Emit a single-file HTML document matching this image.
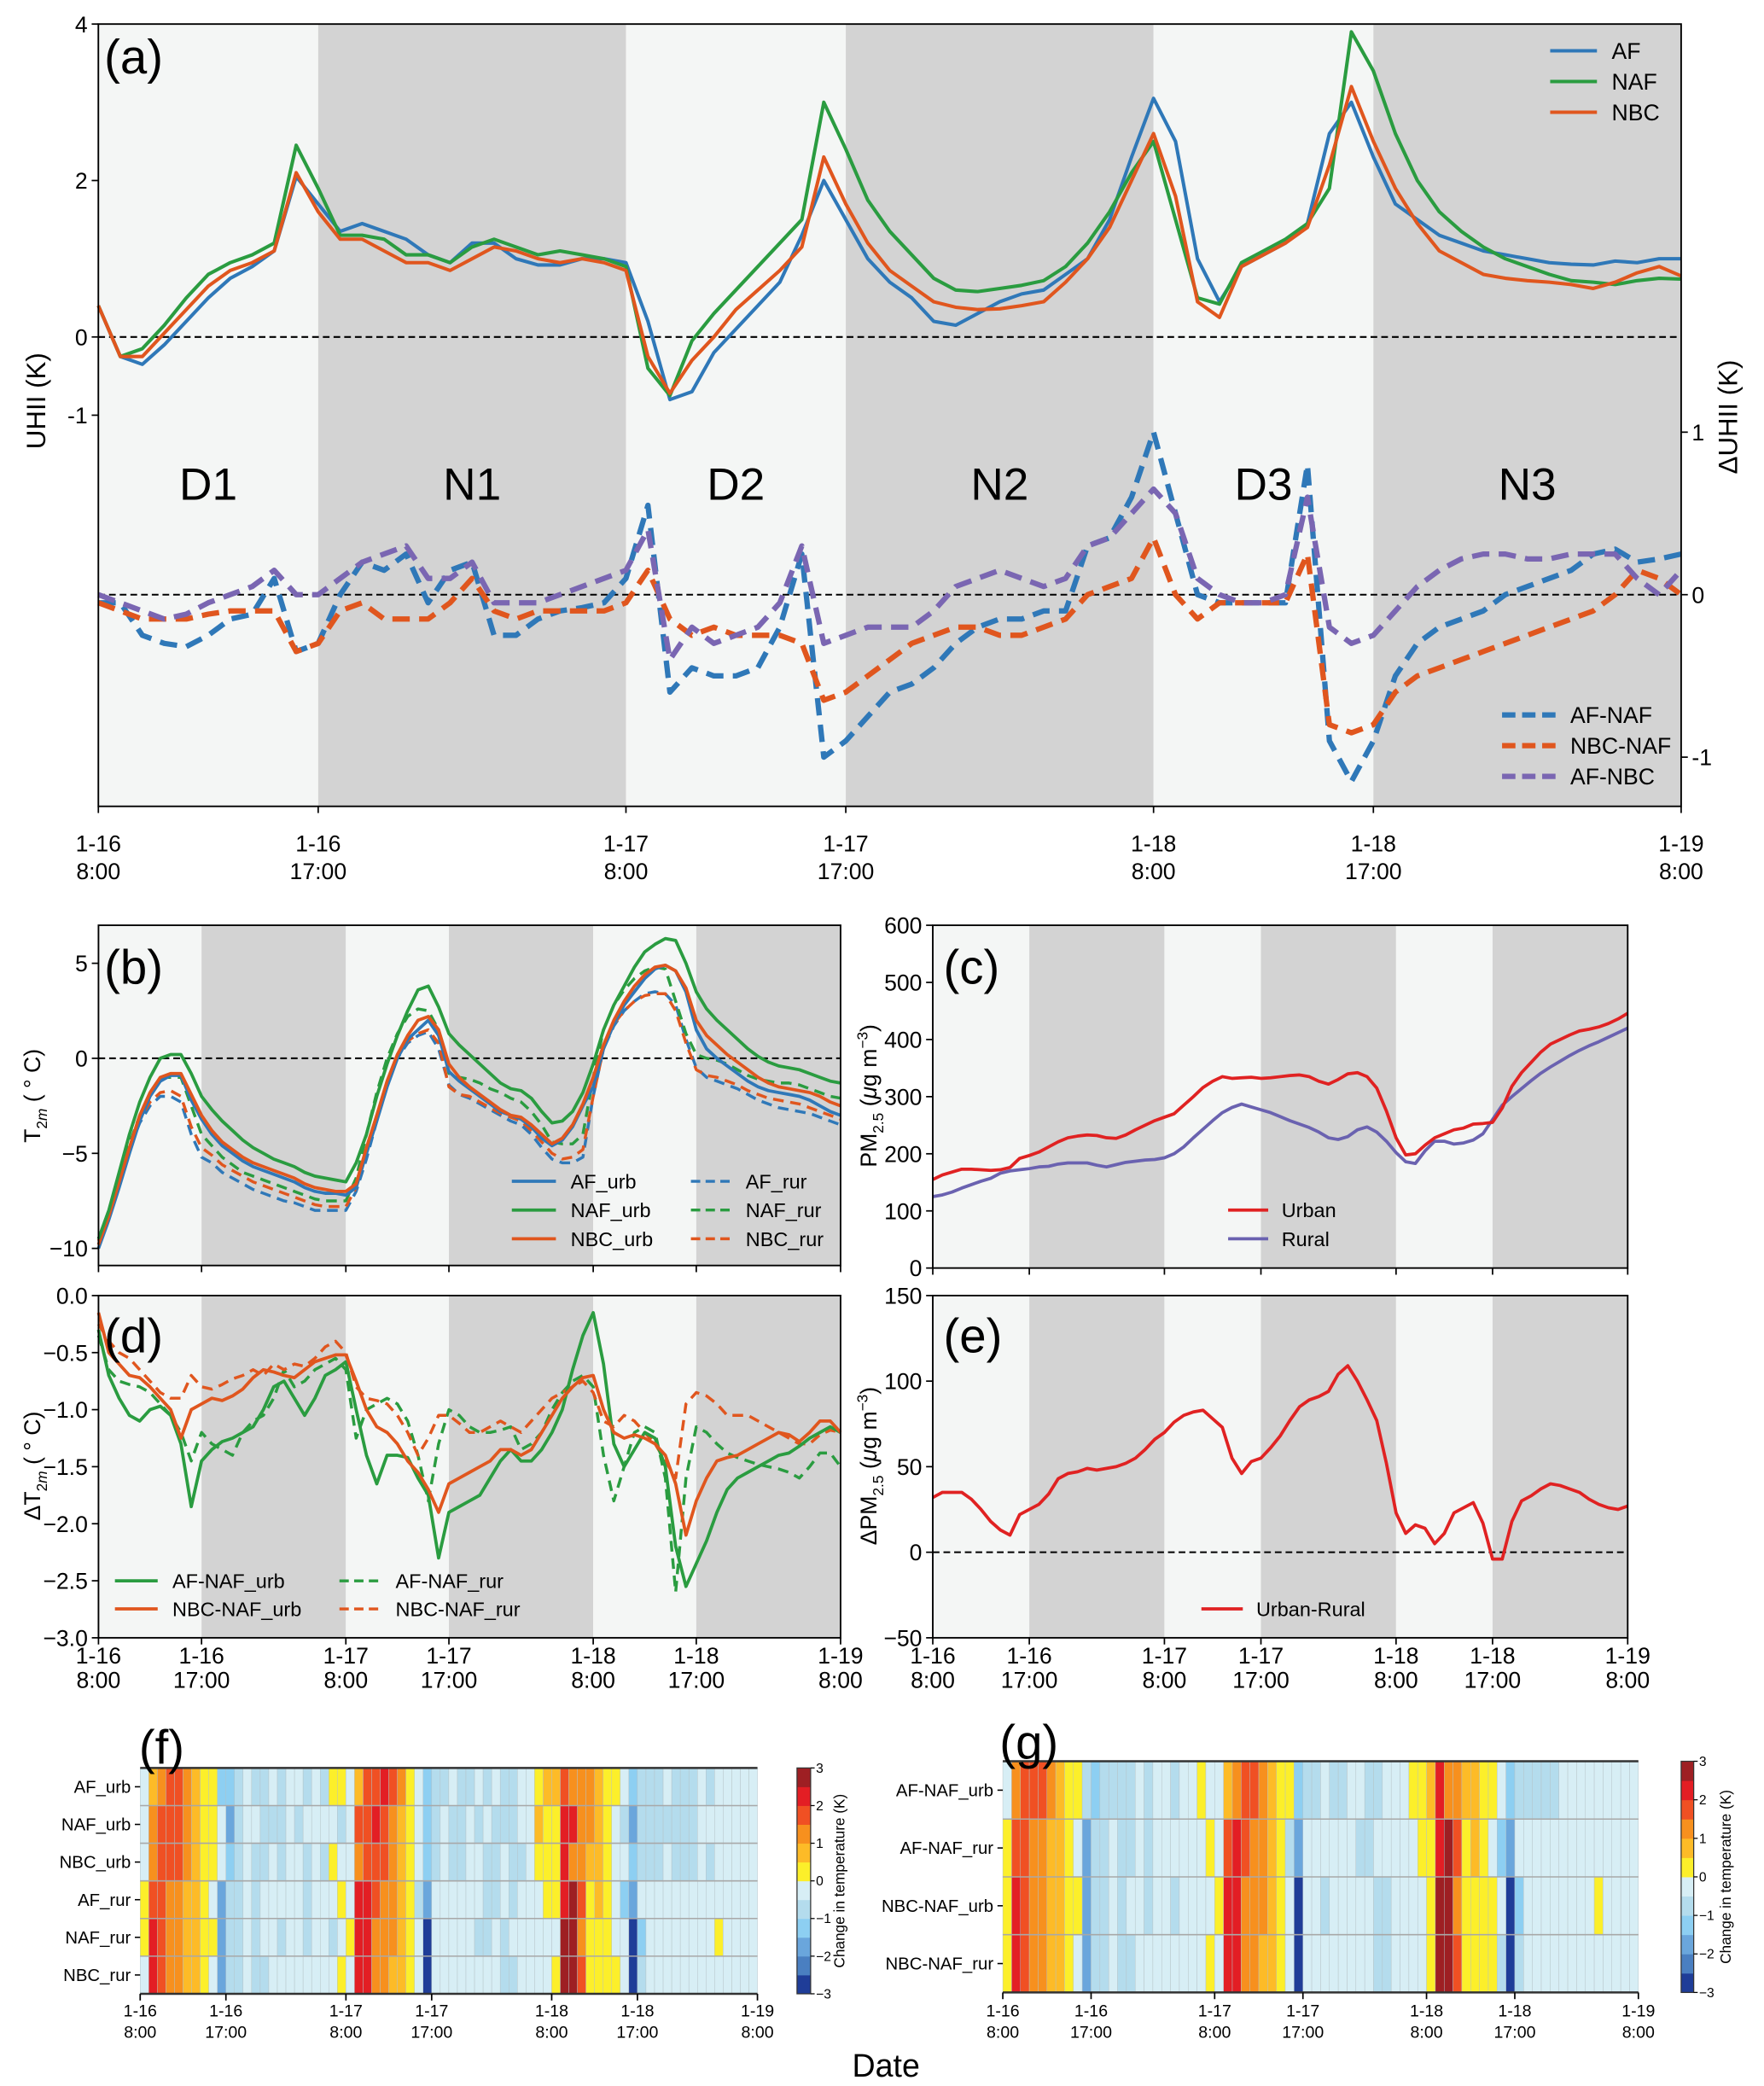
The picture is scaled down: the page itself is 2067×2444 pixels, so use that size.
<!DOCTYPE html>
<html><head><meta charset="utf-8"><style>
html,body{margin:0;padding:0;background:#fff;}
svg{display:block;font-family:"Liberation Sans",Arial,sans-serif;}
</style></head><body>
<svg id="fig" width="2067" height="2444" viewBox="0 0 1320 1561" preserveAspectRatio="none" xmlns="http://www.w3.org/2000/svg">
<rect x="0" y="0" width="1320" height="1561" fill="#fff"/>
</svg>
<script>
// ---------- shared time axis ----------
const xTickHours=[0,10,24,34,48,58,72];
const xTickTop=['1-16','1-16','1-17','1-17','1-18','1-18','1-19'];
const xTickBot=['8:00','17:00','8:00','17:00','8:00','17:00','8:00'];
const periodStart=[0,10,24,34,48,58];
const periodEnd=[10,24,34,48,58,72];
const periodDark=[0,1,0,1,0,1];
const periodNames=['D1','N1','D2','N2','D3','N3'];

// ---------- panel (a) ----------
const uhiiAF=[0.4,-0.25,-0.35,-0.1,0.2,0.5,0.75,0.9,1.1,2.05,1.7,1.35,1.45,1.35,1.25,1.05,0.95,1.2,1.2,1.0,0.92,0.92,1.0,1.0,0.95,0.2,-0.8,-0.7,-0.2,0.1,0.4,0.7,1.3,2.0,1.5,1.0,0.7,0.5,0.2,0.15,0.3,0.45,0.55,0.6,0.8,1.0,1.5,2.3,3.05,2.5,1.0,0.45,0.9,1.05,1.2,1.45,2.6,3.0,2.3,1.7,1.5,1.3,1.2,1.1,1.05,1.0,0.95,0.93,0.92,0.97,0.95,1.0,1.0];
const uhiiNAF=[0.4,-0.25,-0.15,0.15,0.5,0.8,0.95,1.05,1.2,2.45,1.9,1.3,1.3,1.25,1.05,1.05,0.95,1.15,1.25,1.15,1.05,1.1,1.05,1.0,0.9,-0.4,-0.75,-0.05,0.3,0.6,0.9,1.2,1.5,3.0,2.4,1.75,1.35,1.05,0.75,0.6,0.58,0.62,0.66,0.72,0.9,1.2,1.6,2.1,2.5,1.5,0.5,0.42,0.95,1.1,1.25,1.45,1.9,3.9,3.4,2.6,2.0,1.6,1.35,1.15,1.0,0.9,0.8,0.72,0.7,0.67,0.72,0.75,0.74];
const uhiiNBC=[0.4,-0.25,-0.25,0.05,0.35,0.65,0.85,0.95,1.1,2.1,1.6,1.25,1.25,1.1,0.95,0.95,0.85,1.0,1.15,1.1,1.0,0.95,1.0,0.95,0.85,-0.25,-0.72,-0.3,0.0,0.35,0.6,0.85,1.15,2.3,1.7,1.2,0.85,0.65,0.45,0.38,0.35,0.36,0.4,0.45,0.7,1.0,1.4,2.0,2.6,1.8,0.45,0.25,0.9,1.05,1.2,1.4,2.2,3.2,2.5,1.9,1.45,1.1,0.95,0.8,0.75,0.72,0.7,0.67,0.62,0.7,0.82,0.9,0.78];
const dAFNAF=[-0.05,-0.05,-0.25,-0.3,-0.32,-0.25,-0.15,-0.12,0.1,-0.35,-0.3,0.0,0.2,0.15,0.25,-0.05,0.15,0.2,-0.25,-0.25,-0.15,-0.1,-0.08,-0.05,0.1,0.55,-0.6,-0.45,-0.5,-0.5,-0.45,-0.2,0.25,-1.0,-0.9,-0.75,-0.6,-0.55,-0.45,-0.3,-0.2,-0.15,-0.15,-0.1,-0.1,0.3,0.35,0.6,1.0,0.5,0.0,-0.05,-0.05,-0.05,-0.05,0.8,-0.9,-1.15,-0.9,-0.5,-0.3,-0.2,-0.15,-0.1,0.0,0.05,0.1,0.15,0.25,0.28,0.2,0.22,0.25];
const dNBCNAF=[-0.05,-0.1,-0.15,-0.15,-0.15,-0.12,-0.1,-0.1,-0.1,-0.35,-0.3,-0.1,-0.05,-0.15,-0.15,-0.15,-0.05,0.1,-0.1,-0.15,-0.1,-0.1,-0.1,-0.1,-0.05,0.15,-0.15,-0.25,-0.2,-0.25,-0.25,-0.25,-0.3,-0.65,-0.6,-0.5,-0.4,-0.3,-0.25,-0.2,-0.2,-0.25,-0.25,-0.2,-0.15,0.0,0.05,0.1,0.35,0.0,-0.15,-0.05,-0.05,-0.05,-0.05,0.25,-0.8,-0.85,-0.8,-0.6,-0.5,-0.45,-0.4,-0.35,-0.3,-0.25,-0.2,-0.15,-0.1,0.0,0.15,0.1,0.0];
const dAFNBC=[0.0,-0.05,-0.1,-0.15,-0.12,-0.05,0.0,0.05,0.15,0.0,0.0,0.1,0.2,0.25,0.3,0.1,0.1,0.2,-0.05,-0.05,-0.05,0.0,0.05,0.1,0.15,0.4,-0.4,-0.2,-0.3,-0.25,-0.2,-0.05,0.3,-0.3,-0.25,-0.2,-0.2,-0.2,-0.1,0.05,0.1,0.15,0.1,0.05,0.1,0.3,0.35,0.5,0.65,0.5,0.1,0.0,-0.05,-0.05,0.0,0.6,-0.2,-0.3,-0.25,-0.1,0.05,0.15,0.22,0.25,0.25,0.22,0.22,0.25,0.25,0.25,0.1,0.0,0.15];
const aLeftTicks=[4,2,0,-1];
const aRightTicks=[1,0,-1];

// ---------- panel (b) ----------
const tAFurb=[-10.0,-8.5,-6.8,-5.0,-3.3,-2.0,-1.2,-0.9,-0.9,-2.2,-3.2,-4.0,-4.6,-5.0,-5.4,-5.7,-5.9,-6.1,-6.3,-6.5,-6.8,-7.0,-7.1,-7.1,-7.2,-6.8,-5.0,-3.3,-1.5,0.0,1.0,1.5,2.0,1.2,-0.7,-1.2,-1.6,-2.0,-2.4,-2.8,-3.0,-3.2,-3.6,-4.2,-4.6,-4.3,-3.6,-2.5,-1.5,0.5,1.8,2.8,3.5,4.2,4.7,4.9,4.6,3.5,1.5,0.5,0.0,-0.4,-0.8,-1.2,-1.5,-1.7,-1.8,-1.9,-2.0,-2.2,-2.5,-2.8,-3.0];
const tNAFurb=[-9.5,-8.0,-6.0,-4.0,-2.3,-1.0,0.0,0.2,0.2,-0.8,-2.0,-2.7,-3.3,-3.8,-4.3,-4.7,-5.0,-5.3,-5.5,-5.7,-6.0,-6.2,-6.3,-6.4,-6.5,-5.5,-4.0,-2.0,-0.3,1.2,2.5,3.6,3.8,2.7,1.3,0.7,0.2,-0.3,-0.8,-1.3,-1.6,-1.7,-2.1,-2.8,-3.4,-3.3,-2.8,-1.8,-0.3,1.5,2.8,3.8,4.8,5.6,6.0,6.3,6.2,5.0,3.5,2.6,2.0,1.5,1.0,0.5,0.1,-0.2,-0.4,-0.5,-0.6,-0.8,-1.0,-1.2,-1.3];
const tNBCurb=[-9.8,-8.3,-6.5,-4.7,-3.0,-1.8,-1.0,-0.8,-0.8,-1.9,-3.0,-3.8,-4.4,-4.8,-5.2,-5.5,-5.7,-5.9,-6.1,-6.3,-6.6,-6.8,-6.9,-7.0,-7.0,-6.6,-4.7,-3.0,-1.2,0.2,1.2,2.0,2.2,1.5,-0.3,-1.0,-1.5,-1.9,-2.3,-2.7,-3.0,-3.1,-3.5,-4.0,-4.5,-4.2,-3.5,-2.4,-1.0,0.7,2.0,3.0,3.8,4.4,4.8,4.9,4.6,3.7,2.0,1.2,0.7,0.2,-0.2,-0.6,-1.0,-1.3,-1.5,-1.6,-1.7,-1.8,-2.0,-2.3,-2.5];
const tAFrur=[-9.8,-8.3,-6.5,-4.8,-3.4,-2.5,-2.0,-2.0,-2.3,-4.0,-5.2,-5.5,-6.0,-6.3,-6.6,-6.9,-7.1,-7.3,-7.5,-7.6,-7.8,-8.0,-8.0,-8.0,-8.0,-7.0,-5.3,-3.3,-1.5,0.0,0.8,1.2,1.4,0.5,-1.4,-1.9,-2.1,-2.4,-2.7,-3.0,-3.3,-3.5,-4.0,-4.7,-5.3,-5.5,-5.5,-5.2,-2.0,0.5,1.7,2.5,3.0,3.4,3.5,3.4,2.8,1.0,-0.5,-1.0,-1.2,-1.4,-1.6,-1.9,-2.2,-2.4,-2.6,-2.7,-2.8,-2.9,-3.1,-3.3,-3.5];
const tNAFrur=[-9.5,-8.0,-6.2,-4.5,-3.0,-1.8,-1.0,-1.0,-1.0,-2.5,-4.0,-4.6,-5.2,-5.6,-6.0,-6.2,-6.4,-6.6,-6.8,-7.0,-7.2,-7.4,-7.5,-7.5,-7.5,-6.3,-4.0,-1.8,0.0,1.3,2.2,2.6,2.5,1.5,-0.8,-1.0,-1.1,-1.3,-1.6,-1.8,-2.1,-2.3,-2.8,-3.5,-4.4,-4.5,-4.5,-4.0,-1.0,1.5,2.8,3.6,4.2,4.6,4.8,4.7,3.0,1.3,0.2,0.0,-0.1,-0.3,-0.6,-0.9,-1.1,-1.2,-1.3,-1.3,-1.4,-1.6,-1.8,-2.0,-2.1];
const tNBCrur=[-9.6,-8.2,-6.4,-4.7,-3.2,-2.3,-1.8,-1.7,-2.0,-3.6,-4.7,-5.1,-5.6,-5.9,-6.2,-6.5,-6.7,-6.9,-7.1,-7.3,-7.5,-7.7,-7.8,-7.8,-7.8,-6.8,-5.0,-3.0,-1.3,0.2,0.9,1.3,1.5,0.8,-1.5,-1.9,-2.0,-2.3,-2.6,-2.9,-3.1,-3.3,-3.8,-4.4,-5.0,-5.3,-5.2,-4.8,-2.0,0.5,1.8,2.5,3.0,3.3,3.4,3.4,2.5,0.8,-0.6,-0.9,-1.0,-1.2,-1.4,-1.7,-1.9,-2.1,-2.2,-2.3,-2.4,-2.6,-2.8,-3.0,-3.2];
const bTicks=[5,0,-5,-10];

// ---------- panel (d) ----------
const dtAFNAFurb=[-0.3,-0.7,-0.9,-1.05,-1.1,-1.0,-0.97,-1.05,-1.3,-1.85,-1.45,-1.35,-1.28,-1.25,-1.2,-1.15,-1.0,-0.8,-0.75,-0.9,-1.05,-0.9,-0.7,-0.65,-0.58,-1.0,-1.4,-1.65,-1.4,-1.4,-1.42,-1.6,-1.75,-2.3,-1.9,-1.85,-1.8,-1.75,-1.6,-1.45,-1.35,-1.45,-1.45,-1.35,-1.2,-1.0,-0.65,-0.35,-0.15,-0.6,-1.3,-1.5,-1.35,-1.2,-1.25,-1.5,-2.2,-2.55,-2.35,-2.15,-1.9,-1.7,-1.6,-1.55,-1.5,-1.45,-1.4,-1.38,-1.32,-1.25,-1.2,-1.15,-1.2];
const dtAFNAFrur=[-0.35,-0.65,-0.75,-0.78,-0.8,-0.85,-0.95,-1.05,-1.2,-1.45,-1.2,-1.3,-1.35,-1.4,-1.2,-1.1,-1.05,-0.9,-0.65,-0.8,-0.75,-0.65,-0.6,-0.55,-0.65,-1.25,-1.0,-0.95,-0.9,-0.95,-1.1,-1.4,-1.8,-1.3,-1.0,-1.05,-1.15,-1.2,-1.2,-1.18,-1.15,-1.35,-1.3,-1.2,-1.0,-0.85,-0.75,-0.7,-0.8,-1.4,-1.8,-1.5,-1.2,-1.15,-1.2,-1.6,-2.6,-1.6,-1.15,-1.2,-1.3,-1.38,-1.42,-1.45,-1.48,-1.5,-1.52,-1.55,-1.6,-1.5,-1.38,-1.38,-1.5];
const dtNBCNAFurb=[-0.15,-0.5,-0.6,-0.7,-0.72,-0.8,-0.9,-1.0,-1.25,-1.0,-0.95,-0.9,-0.92,-0.88,-0.82,-0.72,-0.65,-0.67,-0.7,-0.72,-0.65,-0.58,-0.55,-0.52,-0.52,-0.75,-1.0,-1.15,-1.2,-1.3,-1.45,-1.55,-1.7,-1.9,-1.65,-1.6,-1.55,-1.5,-1.45,-1.35,-1.35,-1.4,-1.35,-1.2,-1.05,-0.9,-0.8,-0.72,-0.7,-1.0,-1.2,-1.25,-1.22,-1.25,-1.3,-1.4,-1.65,-2.1,-1.8,-1.6,-1.45,-1.42,-1.4,-1.35,-1.3,-1.25,-1.2,-1.22,-1.28,-1.2,-1.1,-1.1,-1.2];
const dtNBCNAFrur=[-0.25,-0.4,-0.5,-0.55,-0.65,-0.75,-0.85,-0.9,-0.9,-0.7,-0.8,-0.82,-0.78,-0.73,-0.7,-0.65,-0.7,-0.6,-0.65,-0.6,-0.62,-0.55,-0.45,-0.4,-0.5,-0.8,-0.9,-0.92,-0.95,-1.05,-1.2,-1.4,-1.25,-1.05,-1.05,-1.12,-1.2,-1.2,-1.15,-1.1,-1.15,-1.2,-1.1,-1.0,-0.9,-0.85,-0.8,-0.75,-0.85,-1.1,-1.15,-1.05,-1.1,-1.2,-1.3,-1.45,-1.6,-0.95,-0.85,-0.88,-0.95,-1.05,-1.05,-1.05,-1.1,-1.15,-1.2,-1.25,-1.3,-1.3,-1.22,-1.18,-1.2];
const dTicks=[0.0,-0.5,-1.0,-1.5,-2.0,-2.5,-3.0];

// ---------- panel (c) / (e) ----------
const pmUrban=[155,163,168,173,173,172,171,172,176,192,197,203,212,221,228,231,233,232,228,227,233,242,250,258,264,270,285,300,316,327,335,332,333,334,332,333,335,337,338,335,327,322,330,340,342,335,315,275,228,198,200,215,228,235,242,245,252,253,255,280,318,342,360,378,392,400,408,415,418,422,428,436,446];
const pmRural=[125,128,133,140,146,152,157,166,170,172,174,177,178,182,184,184,184,180,177,181,185,187,189,190,193,200,212,228,243,258,272,281,287,282,277,272,265,258,252,246,238,228,225,230,242,247,238,222,202,186,183,205,222,222,217,219,224,235,260,285,300,314,328,341,352,362,372,381,389,396,404,412,420];
const pmDiff=[32,35,35,35,31,25,18,13,10,22,25,28,34,43,46,47,49,48,49,50,52,55,60,66,70,76,80,82,83,78,73,55,46,53,55,61,68,77,85,89,91,94,104,109,100,89,77,52,23,11,16,14,5,11,23,26,29,17,-4,-4,18,30,33,37,40,39,37,35,31,28,26,25,27];
const cTicks=[0,100,200,300,400,500,600];
const eTicks=[-50,0,50,100,150];

// ---------- heatmaps (f) (g) : one code per hour ----------
const levelCodes=['N','n','B','b','-','.','Y','a','O','o','r','R'];
const levelValues=[-2.75,-2.25,-1.75,-1.25,-0.75,-0.25,0.25,0.75,1.25,1.75,2.25,2.75];
const fLabels=['AF_urb','NAF_urb','NBC_urb','AF_rur','NAF_rur','NBC_rur'];
const fCodes=[
'.aOooOaYYbb-.--.-..-.-YY.aooroOY.b--.--.-.--..YaaoOOOaYY.b---.---.-.....',
'.OoooOaYY.B-..---.-....-.ooroOaY.b-.--.-.---..aYYrrOOaY.-B-------.......',
'.OoooOaYY.b-.--.-..-.-Y..OoooOaY.b-.--..--.--.YYYrOOaaY..b---.---.-.....',
'YooOOaaY.B--.-.....-...Y.rroOOaY-B......--.-...YYrRoYaY.bB..............',
'YroOOaaYYB--.-..-..-..-.YrrOOOaY.N.....--.-......RROYYY..Nb........Y....',
'.roOOaaY.B--.--........Y.rrOOaaY.N........--....YRRoYYYY.N-.............'];
const gLabels=['AF-NAF_urb','AF-NAF_rur','NBC-NAF_urb','NBC-NAF_rur'];
const gCodes=[
'.OoooOaYY-b----.-..-..Y..aOooOaYYb--.--..--...YYarOOaaYY.b-----.........',
'YooOOaaY.B--.--.-......Y.oroOOaY-B......--.....YYrRoYaY.bB..............',
'YroOOaaYYB--.-..-..-....YrrOOOaY.N..-.....--....YRROYYYY.Nb........Y....',
'YroOOaaY.B--.--........Y.rrOOaaY.N........--....YRRoYYYY-N-.............'];
const cbarTicks=[3,2,1,0,-1,-2,-3];

// ---------- drawing helpers ----------
const NS='http://www.w3.org/2000/svg';
const svg=document.getElementById('fig');
function mk(tag,attrs,parent){const e=document.createElementNS(NS,tag);for(const k in attrs)e.setAttribute(k,attrs[k]);(parent||svg).appendChild(e);return e;}
function txt(str,x,y,size,anchor,parent){const t=mk('text',{x:x,y:y,'font-size':size,'text-anchor':anchor||'middle',fill:'#000'},parent);t.textContent=str;return t;}
function decode(s){const a=[];for(let i=0;i<72;i++){const c=s[i]||'.';const k=levelCodes.indexOf(c);a.push(levelValues[k<0?5:k]);}return a;}
const levelColors=['#1f3d98','#4a7fc1','#6aa6dc','#8dcff2','#b4dced','#d7eef5','#fcef2a','#fdbb27','#f7901e','#f05023','#e31e24','#9e1f23'];
function levelColor(v){let i=Math.floor((v+3)/0.5);if(i<0)i=0;if(i>11)i=11;return levelColors[i];}

function panel(name,x0,x1,y0,y1,ymin,ymax,withBands){
  const g=mk('g',{});
  
  
  const X=h=>x0+h*(x1-x0)/72;
  const Y=v=>y1-(v-ymin)*(y1-y0)/(ymax-ymin);
  if(withBands){
    for(let i=0;i<periodStart.length;i++){
      const r=mk('rect',{x:X(periodStart[i]),y:y0,width:X(periodEnd[i])-X(periodStart[i]),height:y1-y0,fill:periodDark[i]?'#d3d3d3':'#f4f6f5'},g);
      
      
    }
  }
  return {g,X,Y,x0,x1,y0,y1};
}
function series(p,vals,color,w,dash,name,Yf){
  const Yc=Yf||p.Y;
  const d=vals.map((v,i)=>(i?'L':'M')+p.X(i).toFixed(2)+' '+Yc(v).toFixed(2)).join('');
  const path=mk('path',{d:d,fill:'none',stroke:color,'stroke-width':w,'stroke-dasharray':dash||'none','stroke-linejoin':'round'},p.g);
  
  
}
function hline(p,y,name){
  const l=mk('line',{x1:p.x0,x2:p.x1,y1:y,y2:y,stroke:'#000','stroke-width':1.3,'stroke-dasharray':'5,3'},p.g);
  
  
}
function frame(p){
  const r=mk('rect',{x:p.x0,y:p.y0,width:p.x1-p.x0,height:p.y1-p.y0,fill:'none',stroke:'#000','stroke-width':1.2},p.g);
  
  
}
function xAxis(p,labels,size,b1,b2){
  const g=mk('g',{},p.g);
  
  
  xTickHours.forEach((h,i)=>{
    mk('line',{x1:p.X(h),x2:p.X(h),y1:p.y1,y2:p.y1+5,stroke:'#000','stroke-width':1.1},g);
    if(labels){
      const t1=txt(xTickTop[i],p.X(h),b1,size,'middle',g);
      
      const t2=txt(xTickBot[i],p.X(h),b2,size,'middle',g);
      
    }
  });
}
function yAxis(p,ticks,fmt,size,Yf,right){
  const g=mk('g',{},p.g);
  
  
  const Yc=Yf||p.Y;
  ticks.forEach(v=>{
    const y=Yc(v);
    if(right){
      mk('line',{x1:p.x1,x2:p.x1+5,y1:y,y2:y,stroke:'#000','stroke-width':1.1},g);
      const t=txt(fmt(v),p.x1+8,y+size*0.36,size,'start',g);
      
    }else{
      mk('line',{x1:p.x0-5,x2:p.x0,y1:y,y2:y,stroke:'#000','stroke-width':1.1},g);
      const t=txt(fmt(v),p.x0-8,y+size*0.36,size,'end',g);
      
    }
  });
}
function legendEntry(parent,x1,x2,y,color,w,dash,label,tx,size){
  const g=mk('g',{},parent);
  
  
  mk('line',{x1:x1,x2:x2,y1:y,y2:y,stroke:color,'stroke-width':w,'stroke-dasharray':dash||'none'},g);
  txt(label,tx,y+size*0.36,size,'start',g);
}
function ylabel(parts,x,y,size,name){
  const t=mk('text',{x:x,y:y,'font-size':size,'text-anchor':'middle',transform:'rotate(-90 '+x+' '+y+')'});
  
  
  parts.forEach(pt=>{const s=mk('tspan',pt.attrs||{},t);s.textContent=pt.t;});
  return t;
}
const cBlue='#2f78b8',cGreen='#2a9c40',cOrange='#e0561e',cPurple='#7a66b2',cRed='#e02222',cRural='#6a62b0';

// ---------- panel (a) ----------
const pa=panel('panel-a-uhii',73.6,1258,18,603.4,-6.0,4.0,true);
const YR=v=>445-v*121.6;
hline(pa,pa.Y(0),'zero-line-uhii');
hline(pa,YR(0),'zero-line-delta');
periodNames.forEach((n,i)=>{const t=txt(n,pa.X((periodStart[i]+periodEnd[i])/2),374,34,'middle',pa.g);});
series(pa,uhiiAF,cBlue,2.6,null,'line-af');
series(pa,uhiiNAF,cGreen,2.6,null,'line-naf');
series(pa,uhiiNBC,cOrange,2.6,null,'line-nbc');
series(pa,dAFNAF,cBlue,4,'13,7','line-af-naf',YR);
series(pa,dNBCNAF,cOrange,4,'13,7','line-nbc-naf',YR);
series(pa,dAFNBC,cPurple,4,'13,7','line-af-nbc',YR);
frame(pa);
xAxis(pa,true,17,637,658);
yAxis(pa,aLeftTicks,v=>String(v),17);
yAxis(pa,aRightTicks,v=>String(v),17,YR,true);
{const t=txt('(a)',78,55,36,'start',pa.g);}
legendEntry(pa.g,1160,1195,38,cBlue,2.6,null,'AF',1206,17);
legendEntry(pa.g,1160,1195,61,cGreen,2.6,null,'NAF',1206,17);
legendEntry(pa.g,1160,1195,84,cOrange,2.6,null,'NBC',1206,17);
legendEntry(pa.g,1124,1164,535,cBlue,4,'10,5','AF-NAF',1175,17);
legendEntry(pa.g,1124,1164,558,cOrange,4,'10,5','NBC-NAF',1175,17);
legendEntry(pa.g,1124,1164,581,cPurple,4,'10,5','AF-NBC',1175,17);
ylabel([{t:'UHII (K)'}],34,300,20,'y-axis-title-uhii');
ylabel([{t:'ΔUHII (K)'}],1300,312,20,'y-axis-title-delta-uhii');

// ---------- panel (b) ----------
const pb=panel('panel-b-t2m',73.7,629,692.4,947,-10.9,7.0,true);
hline(pb,pb.Y(0),'zero-line');
series(pb,tAFrur,cBlue,2.2,'8,5','line-af-rur');
series(pb,tNAFrur,cGreen,2.2,'8,5','line-naf-rur');
series(pb,tNBCrur,cOrange,2.2,'8,5','line-nbc-rur');
series(pb,tAFurb,cBlue,2.4,null,'line-af-urb');
series(pb,tNBCurb,cOrange,2.4,null,'line-nbc-urb');
series(pb,tNAFurb,cGreen,2.4,null,'line-naf-urb');
frame(pb);
xAxis(pb,false);
yAxis(pb,bTicks,v=>v<0?'−'+Math.abs(v):String(v),17);
{const t=txt('(b)',78,736,36,'start',pb.g);}
legendEntry(pb.g,383,416,884,cBlue,2.4,null,'AF_urb',427,15);
legendEntry(pb.g,383,416,905.5,cGreen,2.4,null,'NAF_urb',427,15);
legendEntry(pb.g,383,416,927,cOrange,2.4,null,'NBC_urb',427,15);
legendEntry(pb.g,517,547,884,cBlue,2.2,'7,4','AF_rur',558,15);
legendEntry(pb.g,517,547,905.5,cGreen,2.2,'7,4','NAF_rur',558,15);
legendEntry(pb.g,517,547,927,cOrange,2.2,'7,4','NBC_rur',558,15);
ylabel([{t:'T'},{t:'2',attrs:{'font-size':11,dy:5}},{t:'m',attrs:{'font-size':11,'font-style':'italic'}},{t:' ( ° C)',attrs:{dy:-5}}],30,820,17,'y-axis-title-t2m');

// ---------- panel (d) ----------
const pd=panel('panel-d-delta-t2m',73.7,629,969.5,1225.6,-3.0,0.0,true);
series(pd,dtAFNAFrur,cGreen,2.2,'8,5','line-af-naf-rur');
series(pd,dtNBCNAFrur,cOrange,2.2,'8,5','line-nbc-naf-rur');
series(pd,dtAFNAFurb,cGreen,2.4,null,'line-af-naf-urb');
series(pd,dtNBCNAFurb,cOrange,2.4,null,'line-nbc-naf-urb');
frame(pd);
xAxis(pd,true,17,1245,1263);
yAxis(pd,dTicks,v=>v<0?'−'+Math.abs(v).toFixed(1):v.toFixed(1),17);
{const t=txt('(d)',78,1012,36,'start',pd.g);}
legendEntry(pd.g,86,118,1183,cGreen,2.4,null,'AF-NAF_urb',129,15);
legendEntry(pd.g,86,118,1204,cOrange,2.4,null,'NBC-NAF_urb',129,15);
legendEntry(pd.g,254,285,1183,cGreen,2.2,'7,4','AF-NAF_rur',296,15);
legendEntry(pd.g,254,285,1204,cOrange,2.2,'7,4','NBC-NAF_rur',296,15);
ylabel([{t:'ΔT'},{t:'2',attrs:{'font-size':11,dy:5}},{t:'m',attrs:{'font-size':11,'font-style':'italic'}},{t:' ( ° C)',attrs:{dy:-5}}],30,1097,17,'y-axis-title-delta-t2m');

// ---------- panel (c) ----------
const pc=panel('panel-c-pm25',698,1218,692.4,948.9,0,600,true);
series(pc,pmRural,cRural,2.4,null,'line-rural');
series(pc,pmUrban,cRed,2.4,null,'line-urban');
frame(pc);
xAxis(pc,false);
yAxis(pc,cTicks,v=>String(v),17);
{const t=txt('(c)',706,736,36,'start',pc.g);}
legendEntry(pc.g,919,949,905.5,cRed,2.4,null,'Urban',959,15);
legendEntry(pc.g,919,949,927,cRural,2.4,null,'Rural',959,15);
ylabel([{t:'PM'},{t:'2.5',attrs:{'font-size':11,dy:5}},{t:' (',attrs:{dy:-5}},{t:'μ',attrs:{'font-style':'italic'}},{t:'g m'},{t:'−3',attrs:{'font-size':11,dy:-7}},{t:')',attrs:{dy:7}}],656,820,17,'y-axis-title-pm25');

// ---------- panel (e) ----------
const pe=panel('panel-e-delta-pm25',698,1218,969.5,1225.6,-50,150,true);
hline(pe,pe.Y(0),'zero-line');
series(pe,pmDiff,cRed,2.4,null,'line-urban-rural');
frame(pe);
xAxis(pe,true,17,1245,1263);
yAxis(pe,eTicks,v=>v<0?'−'+Math.abs(v):String(v),17);
{const t=txt('(e)',706,1012,36,'start',pe.g);}
legendEntry(pe.g,899,930,1204,cRed,2.4,null,'Urban-Rural',940,15);
ylabel([{t:'ΔPM'},{t:'2.5',attrs:{'font-size':11,dy:5}},{t:' (',attrs:{dy:-5}},{t:'μ',attrs:{'font-style':'italic'}},{t:'g m'},{t:'−3',attrs:{'font-size':11,dy:-7}},{t:')',attrs:{dy:7}}],656,1097,17,'y-axis-title-delta-pm25');

// ---------- heatmaps ----------
function heatmap(name,codes,labels,x0,x1,y0,y1,cbx,cbw,cbLabelX){
  const p=panel(name,x0,x1,y0,y1,0,1,false);
  const vals=codes.map(decode);
  const cw=(x1-x0)/72, rh=(y1-y0)/vals.length;
  vals.forEach((row,r)=>{
    row.forEach((v,c)=>{
      const cell=mk('rect',{x:(x0+c*cw).toFixed(2),y:(y0+r*rh).toFixed(2),width:cw.toFixed(2),height:rh.toFixed(2),fill:levelColor(v),stroke:'#b4c2c6','stroke-width':0.3},p.g);
      
      
    });
    const yc=y0+(r+0.5)*rh;
    mk('line',{x1:x0-4,x2:x0,y1:yc,y2:yc,stroke:'#000','stroke-width':1},p.g);
    const t=txt(labels[r],x0-7,yc+4.5,13,'end',p.g);
    
    if(r>0){const l=mk('line',{x1:x0,x2:x1,y1:y0+r*rh,y2:y0+r*rh,stroke:'#a8a8a8','stroke-width':1},p.g);}
  });
  mk('line',{x1:x0,x2:x1,y1:y0,y2:y0,stroke:'#333','stroke-width':1.6},p.g);
  mk('line',{x1:x0,x2:x1,y1:y1,y2:y1,stroke:'#333','stroke-width':1.6},p.g);
  xAxis(p,true,12.5,1509,1525);
  // colorbar
  const cb=mk('g',{});
  
  
  const bh=(y1-y0)/12;
  for(let i=0;i<12;i++){mk('rect',{x:cbx,y:(y1-(i+1)*bh).toFixed(2),width:cbw,height:(bh+0.3).toFixed(2),fill:levelColors[i]},cb);}
  mk('rect',{x:cbx,y:y0,width:cbw,height:y1-y0,fill:'none',stroke:'#333','stroke-width':0.8},cb);
  cbarTicks.forEach(v=>{const y=y1-(v+3)/6*(y1-y0);mk('line',{x1:cbx+cbw,x2:cbx+cbw+3,y1:y,y2:y,stroke:'#000','stroke-width':0.8},cb);txt(v<0?'−'+Math.abs(v):String(v),cbx+cbw+4,y+3.5,10,'start',cb);});
  ylabel([{t:'Change in temperature (K)'}],cbLabelX,(y0+y1)/2,11,name+'-colorbar-title');
  return p;
}
heatmap('heatmap-f',fCodes,fLabels,104.9,566.8,1323,1492,596.4,10.2,632);
heatmap('heatmap-g',gCodes,gLabels,750.4,1226,1318,1491,1258,9.4,1295);
{const t=txt('(f)',104,1320,36,'start');}
{const t=txt('(g)',748,1316,36,'start');}
{const t=txt('Date',663,1554,24,'middle');}
</script>
</body></html>
